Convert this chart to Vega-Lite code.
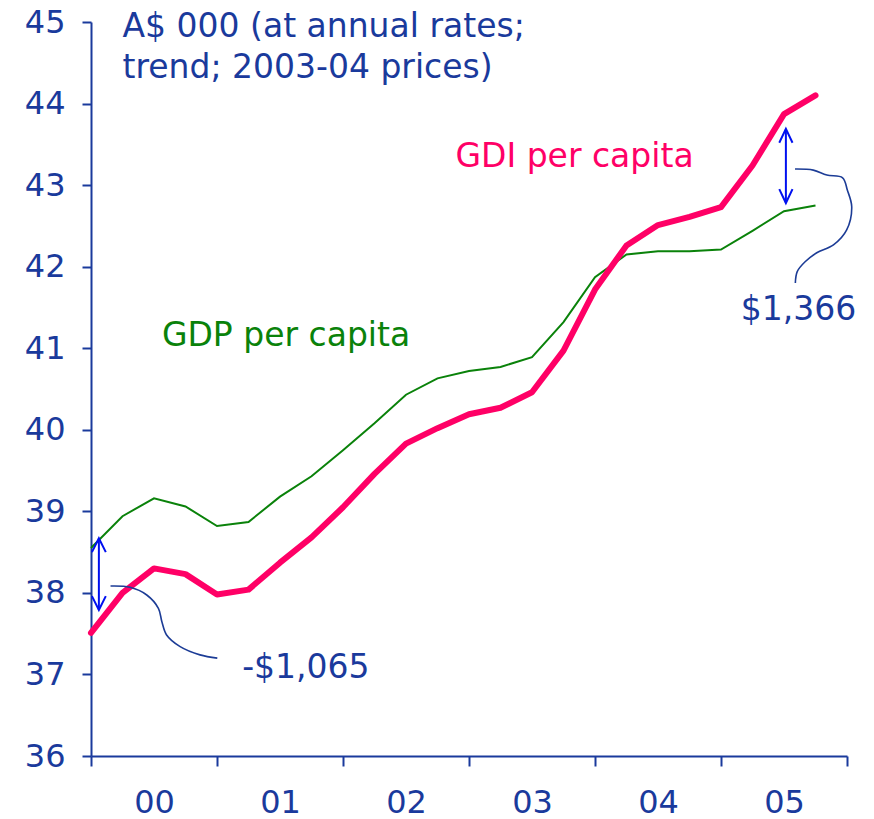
{
  "$schema": "https://vega.github.io/schema/vega-lite/v6.json",
  "autosize": "none",
  "width": 756,
  "height": 734,
  "padding": {"left": 91, "top": 22, "right": 27, "bottom": 63},
  "background": "white",
  "config": {
    "view": {"stroke": null},
    "font": "DejaVu Sans",
    "axis": {
      "domainColor": "#1a3a9c",
      "domainWidth": 2,
      "tickColor": "#1a3a9c",
      "tickWidth": 2,
      "labelColor": "#1a3a9c",
      "labelFont": "DejaVu Sans",
      "labelFontSize": 32,
      "grid": false,
      "title": null
    }
  },
  "datasets": {
    "series": [
      {"q": 0, "s": "GDI", "v": 37.51}, {"q": 1, "s": "GDI", "v": 38.00}, {"q": 2, "s": "GDI", "v": 38.30}, {"q": 3, "s": "GDI", "v": 38.23},
      {"q": 4, "s": "GDI", "v": 37.98}, {"q": 5, "s": "GDI", "v": 38.04}, {"q": 6, "s": "GDI", "v": 38.37}, {"q": 7, "s": "GDI", "v": 38.68},
      {"q": 8, "s": "GDI", "v": 39.05}, {"q": 9, "s": "GDI", "v": 39.46}, {"q": 10, "s": "GDI", "v": 39.83}, {"q": 11, "s": "GDI", "v": 40.02},
      {"q": 12, "s": "GDI", "v": 40.19}, {"q": 13, "s": "GDI", "v": 40.27}, {"q": 14, "s": "GDI", "v": 40.46}, {"q": 15, "s": "GDI", "v": 40.97},
      {"q": 16, "s": "GDI", "v": 41.72}, {"q": 17, "s": "GDI", "v": 42.26}, {"q": 18, "s": "GDI", "v": 42.51}, {"q": 19, "s": "GDI", "v": 42.61},
      {"q": 20, "s": "GDI", "v": 42.73}, {"q": 21, "s": "GDI", "v": 43.24}, {"q": 22, "s": "GDI", "v": 43.87}, {"q": 23, "s": "GDI", "v": 44.10},
      {"q": 0, "s": "GDP", "v": 38.55}, {"q": 1, "s": "GDP", "v": 38.94}, {"q": 2, "s": "GDP", "v": 39.16}, {"q": 3, "s": "GDP", "v": 39.06},
      {"q": 4, "s": "GDP", "v": 38.82}, {"q": 5, "s": "GDP", "v": 38.87}, {"q": 6, "s": "GDP", "v": 39.18}, {"q": 7, "s": "GDP", "v": 39.43},
      {"q": 8, "s": "GDP", "v": 39.75}, {"q": 9, "s": "GDP", "v": 40.08}, {"q": 10, "s": "GDP", "v": 40.43}, {"q": 11, "s": "GDP", "v": 40.63},
      {"q": 12, "s": "GDP", "v": 40.72}, {"q": 13, "s": "GDP", "v": 40.77}, {"q": 14, "s": "GDP", "v": 40.89}, {"q": 15, "s": "GDP", "v": 41.32},
      {"q": 16, "s": "GDP", "v": 41.87}, {"q": 17, "s": "GDP", "v": 42.15}, {"q": 18, "s": "GDP", "v": 42.19}, {"q": 19, "s": "GDP", "v": 42.19},
      {"q": 20, "s": "GDP", "v": 42.21}, {"q": 21, "s": "GDP", "v": 42.44}, {"q": 22, "s": "GDP", "v": 42.68}, {"q": 23, "s": "GDP", "v": 42.75}
    ],
    "arrows": [
      {"id": "a1", "o": 0, "q": 0.25, "v": 38.67}, {"id": "a1", "o": 1, "q": 0.25, "v": 37.79},
      {"id": "a2", "o": 0, "q": 0.03, "v": 38.50}, {"id": "a2", "o": 1, "q": 0.25, "v": 38.67}, {"id": "a2", "o": 2, "q": 0.47, "v": 38.50},
      {"id": "a3", "o": 0, "q": 0.03, "v": 37.96}, {"id": "a3", "o": 1, "q": 0.25, "v": 37.79}, {"id": "a3", "o": 2, "q": 0.47, "v": 37.96},
      {"id": "b1", "o": 0, "q": 22.06, "v": 43.69}, {"id": "b1", "o": 1, "q": 22.06, "v": 42.78},
      {"id": "b2", "o": 0, "q": 21.85, "v": 43.52}, {"id": "b2", "o": 1, "q": 22.06, "v": 43.69}, {"id": "b2", "o": 2, "q": 22.27, "v": 43.52},
      {"id": "b3", "o": 0, "q": 21.85, "v": 42.95}, {"id": "b3", "o": 1, "q": 22.06, "v": 42.78}, {"id": "b3", "o": 2, "q": 22.27, "v": 42.95}
    ],
    "connectors": [
      {"id": "c1", "o": 0, "q": 0.62, "v": 38.084}, {"id": "c1", "o": 1, "q": 1.24, "v": 38.068}, {"id": "c1", "o": 2, "q": 1.77, "v": 37.974},
      {"id": "c1", "o": 3, "q": 2.14, "v": 37.81}, {"id": "c1", "o": 4, "q": 2.25, "v": 37.647}, {"id": "c1", "o": 5, "q": 2.40, "v": 37.484},
      {"id": "c1", "o": 6, "q": 2.83, "v": 37.341}, {"id": "c1", "o": 7, "q": 3.46, "v": 37.24}, {"id": "c1", "o": 8, "q": 4.01, "v": 37.20},
      {"id": "c2", "o": 0, "q": 22.35, "v": 43.197}, {"id": "c2", "o": 1, "q": 22.93, "v": 43.184}, {"id": "c2", "o": 2, "q": 23.36, "v": 43.123},
      {"id": "c2", "o": 3, "q": 23.86, "v": 43.09}, {"id": "c2", "o": 4, "q": 24.01, "v": 42.94}, {"id": "c2", "o": 5, "q": 24.15, "v": 42.735},
      {"id": "c2", "o": 6, "q": 23.99, "v": 42.45}, {"id": "c2", "o": 7, "q": 23.57, "v": 42.266}, {"id": "c2", "o": 8, "q": 23.04, "v": 42.17},
      {"id": "c2", "o": 9, "q": 22.67, "v": 42.06}, {"id": "c2", "o": 10, "q": 22.42, "v": 41.94}, {"id": "c2", "o": 11, "q": 22.36, "v": 41.80}
    ],
    "labels": [
      {"text": "A$ 000 (at annual rates;", "k": "note", "q": 1.0, "v": 44.82},
      {"text": "trend; 2003-04 prices)", "k": "note", "q": 1.0, "v": 44.31},
      {"text": "GDP per capita", "k": "GDP", "q": 2.25, "v": 41.03},
      {"text": "GDI per capita", "k": "GDI", "q": 11.57, "v": 43.22},
      {"text": "$1,366", "k": "note", "q": 20.63, "v": 41.35},
      {"text": "-$1,065", "k": "note", "q": 4.80, "v": 36.96}
    ]
  },
  "encoding": {
    "x": {
      "field": "q", "type": "quantitative",
      "scale": {"domain": [0, 24], "nice": false, "zero": false},
      "axis": {
        "values": [0, 2, 4, 6, 8, 10, 12, 14, 16, 18, 20, 22, 24],
        "tickSize": 10,
        "tickOpacity": {"condition": {"test": "datum.value % 4 == 0", "value": 1}, "value": 0},
        "labelExpr": "datum.value % 4 == 2 ? '0' + floor(datum.value / 4) : ''",
        "labelPadding": 21,
        "labelFlush": false,
        "labelOverlap": false
      }
    },
    "y": {
      "field": "v", "type": "quantitative",
      "scale": {"domain": [36, 45], "nice": false, "zero": false},
      "axis": {
        "values": [36, 37, 38, 39, 40, 41, 42, 43, 44, 45],
        "tickSize": 9,
        "labelPadding": 17,
        "labelFlush": false
      }
    }
  },
  "layer": [
    {
      "data": {"name": "series"},
      "transform": [{"filter": "datum.s == 'GDP'"}],
      "mark": {"type": "line", "color": "#0a820a", "strokeWidth": 2}
    },
    {
      "data": {"name": "series"},
      "transform": [{"filter": "datum.s == 'GDI'"}],
      "mark": {"type": "line", "color": "#ff0066", "strokeWidth": 6, "strokeCap": "round", "strokeJoin": "round"}
    },
    {
      "data": {"name": "arrows"},
      "mark": {"type": "line", "color": "#0010f0", "strokeWidth": 2},
      "encoding": {"detail": {"field": "id"}, "order": {"field": "o"}}
    },
    {
      "data": {"name": "connectors"},
      "mark": {"type": "line", "color": "#1c3c96", "strokeWidth": 1.6, "interpolate": "catmull-rom"},
      "encoding": {"detail": {"field": "id"}, "order": {"field": "o"}}
    },
    {
      "data": {"name": "labels"},
      "mark": {"type": "text", "align": "left", "baseline": "alphabetic", "fontSize": 33, "font": "DejaVu Sans"},
      "encoding": {
        "text": {"field": "text"},
        "color": {"field": "k", "type": "nominal", "scale": {"domain": ["GDP", "GDI", "note"], "range": ["#0a820a", "#ff0066", "#1a3a9c"]}, "legend": null}
      }
    }
  ]
}
